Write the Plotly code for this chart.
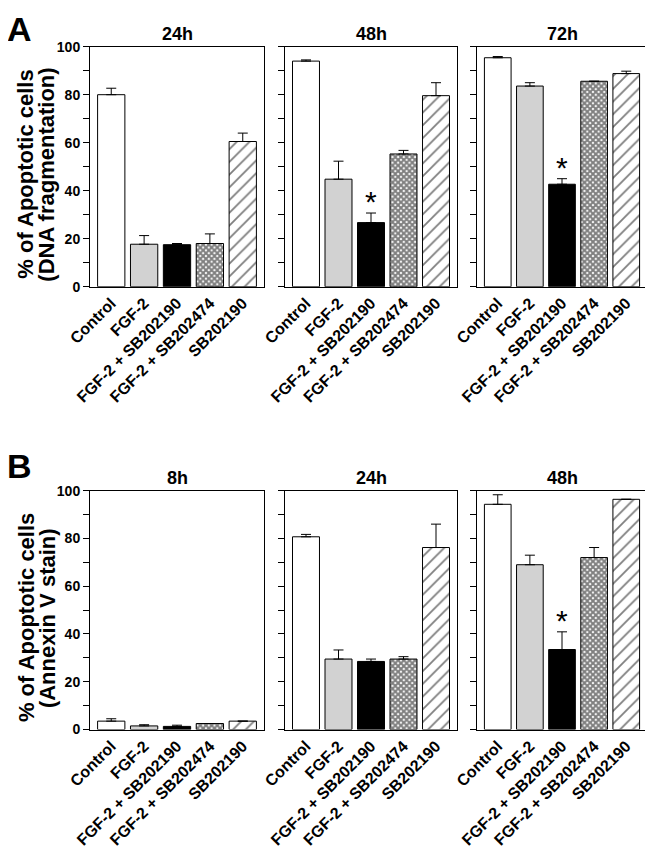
import plotly.graph_objects as go

# treatment groups (x categories)
groups = ["Control", "FGF-2", "FGF-2 + SB202190", "FGF-2 + SB202474", "SB202190"]

# panel A: DNA fragmentation
a_times = ["24h", "48h", "72h"]
dna_24h = [80.0, 17.7, 17.5, 18.0, 60.5]
dna_24h_err = [2.7, 3.6, 0.5, 4.0, 3.5]
dna_48h = [94.0, 44.8, 26.7, 55.3, 79.6]
dna_48h_err = [0.5, 7.5, 4.0, 1.5, 5.4]
dna_72h = [95.4, 83.6, 42.7, 85.6, 88.8]
dna_72h_err = [0.5, 1.4, 2.3, 0.0, 1.0]

# panel B: Annexin V stain
b_times = ["8h", "24h", "48h"]
annexin_8h = [3.5, 1.5, 1.3, 2.5, 3.5]
annexin_8h_err = [1.0, 0.5, 0.5, 0.0, 0.0]
annexin_24h = [80.7, 29.5, 28.5, 29.5, 76.2]
annexin_24h_err = [1.0, 3.8, 1.0, 1.0, 9.8]
annexin_48h = [94.3, 69.0, 33.5, 72.0, 96.4]
annexin_48h_err = [4.0, 4.0, 7.4, 4.2, 0.0]

# which panels have the significance star (on FGF-2 + SB202190)
star_a = [False, True, True]
star_b = [False, False, True]

yticks = list(range(0, 101, 10))
ylabels = [str(v) if v % 20 == 0 else "" for v in yticks]

# bar styles, one per group
fill = ["white", "#d2d2d2", "black", "white", "white"]
pattern = ["", "", "", "x", "/"]
pat_size = [8, 8, 8, 4, 9]
pat_sol = [0.3, 0.3, 0.3, 0.75, 0.2]

W, H = 653, 853
OFF = 8  # page body margin, positions below are in screen pixels
FONT = "Liberation Sans, Arial, sans-serif"


def px(x):
    return (x - OFF) / W


def py(y):
    return 1 - (y - OFF) / H


x_px = [(90, 264), (285, 457), (477, 647)]
rows = [
    dict(top=46.7, bottom=286.7, times=a_times,
         means=[dna_24h, dna_48h, dna_72h],
         errs=[dna_24h_err, dna_48h_err, dna_72h_err],
         stars=star_a, letter="A", letter_y=6,
         ytitle=["% of Apoptotic cells", "(DNA fragmentation)"]),
    dict(top=490.7, bottom=729.5, times=b_times,
         means=[annexin_8h, annexin_24h, annexin_48h],
         errs=[annexin_8h_err, annexin_24h_err, annexin_48h_err],
         stars=star_b, letter="B", letter_y=445,
         ytitle=["% of Apoptotic cells", "(Annexin V stain)"]),
]

fig = go.Figure()
annotations = []
n = 0
for r in rows:
    ydom = [py(r["bottom"]), py(r["top"])]
    for j in range(3):
        n += 1
        sx = "" if n == 1 else str(n)
        for g in range(len(groups)):
            mk = dict(color=fill[g], line=dict(color="black", width=1))
            if pattern[g]:
                mk["pattern"] = dict(shape=pattern[g], fgcolor="black", bgcolor="white",
                                     size=pat_size[g], solidity=pat_sol[g])
            fig.add_trace(go.Bar(
                x=[groups[g]], y=[r["means"][j][g]], width=0.83,
                xaxis="x" + sx, yaxis="y" + sx, marker=mk,
                error_y=dict(type="data", symmetric=False, array=[r["errs"][j][g]],
                             arrayminus=[0], color="black", thickness=1, width=5),
                showlegend=False,
            ))
        xdom = [px(x_px[j][0]), px(x_px[j][1])]
        fig.layout["xaxis" + sx] = dict(
            domain=xdom, anchor="y" + sx, range=[-0.646, 4.646],
            categoryorder="array", categoryarray=groups,
            showline=True, mirror=True, linecolor="black", linewidth=1,
            ticks="", tickangle=-45, automargin=False,
            tickfont=dict(family=FONT, size=16, color="black", weight="bold"),
            showgrid=False, zeroline=False,
        )
        fig.layout["yaxis" + sx] = dict(
            domain=ydom, anchor="x" + sx, range=[0, 100],
            showline=True, mirror=True, linecolor="black", linewidth=1,
            ticks="outside", ticklen=6, tickcolor="black", automargin=False,
            tickvals=yticks, ticktext=ylabels if j == 0 else [""] * len(yticks),
            tickfont=dict(family=FONT, size=14, color="black", weight="bold"),
            showgrid=False, zeroline=False,
        )
        # panel time title
        annotations.append(dict(
            text=r["times"][j], x=sum(xdom) / 2, y=py(r["top"] - 13),
            xref="paper", yref="paper", showarrow=False,
            xanchor="center", yanchor="middle",
            font=dict(family=FONT, size=18, color="black", weight="bold"),
        ))
        if r["stars"][j]:
            annotations.append(dict(
                text="*", x=2, y=r["means"][j][2] + r["errs"][j][2],
                xref="x" + sx, yref="y" + sx, showarrow=False,
                xanchor="center", yanchor="bottom", yshift=-7,
                font=dict(family=FONT, size=30, color="black"),
            ))
    # panel letter
    annotations.append(dict(
        text=r["letter"], x=0, y=min(1, py(r["letter_y"])),
        xref="paper", yref="paper", showarrow=False,
        xanchor="left", yanchor="top", xshift=-3,
        font=dict(family=FONT, size=34, color="black", weight="bold"),
    ))
    # y axis title (two lines)
    yc = py((r["top"] + r["bottom"]) / 2 + 8)
    for line, xp in zip(r["ytitle"], [26, 47]):
        annotations.append(dict(
            text=line, x=px(xp), y=yc, textangle=-90,
            xref="paper", yref="paper", showarrow=False,
            xanchor="center", yanchor="middle",
            font=dict(family=FONT, size=22, color="black", weight="bold"),
        ))

fig.update_layout(
    width=W, height=H,
    margin=dict(l=0, r=0, t=0, b=0, autoexpand=False),
    paper_bgcolor="white", plot_bgcolor="white",
    barmode="overlay",
    annotations=annotations,
)

fig.write_html("out.html")
